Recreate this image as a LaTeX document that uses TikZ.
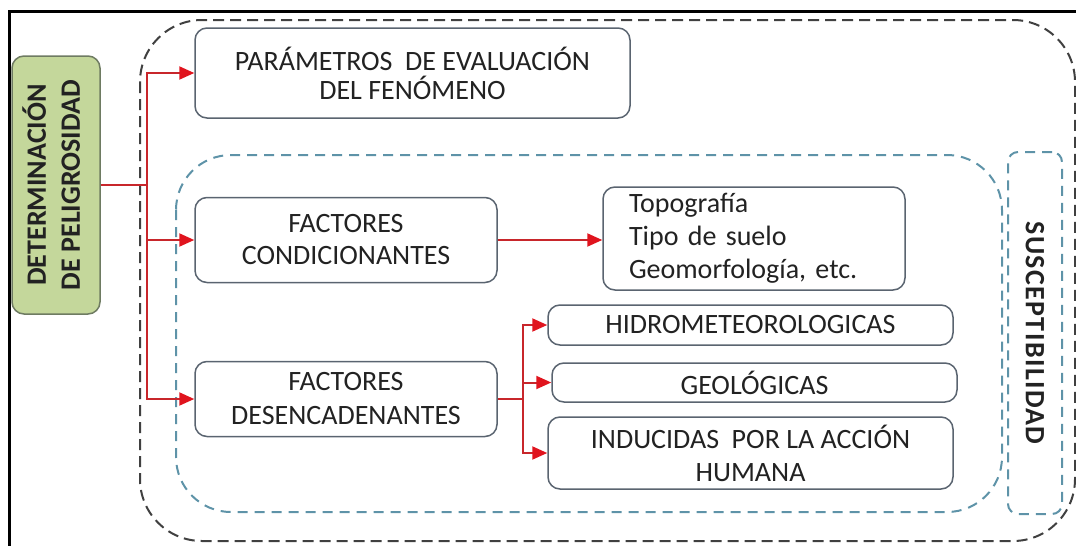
\documentclass[tikz,border=0pt]{standalone}
\usepackage{fontspec}
\setmainfont{Carlito}
\usetikzlibrary{arrows.meta}
\definecolor{boxline}{HTML}{5A6470}
\definecolor{txt}{HTML}{222222}
\definecolor{arrred}{HTML}{C8262B}
\definecolor{tipred}{HTML}{E0141E}
\definecolor{bluedash}{HTML}{5E93A8}
\definecolor{greenfill}{HTML}{C4D79B}
\definecolor{greenline}{HTML}{6E7B62}
\tikzset{
  box/.style={draw=boxline, line width=1.5pt, rounded corners=12pt, fill=white,
    text=txt, font=\fontsize{28}{32}\selectfont, align=center, inner sep=0pt},
  rl/.style={draw=arrred, line width=2pt},
  arr/.style={rl, -{Triangle[length=15pt,width=13pt,fill=tipred,color=tipred]}},
  outerdash/.style={draw=black!75, line width=2pt, dash pattern=on 11pt off 6pt},
  bluedashed/.style={draw=bluedash, line width=2pt, dash pattern=on 10pt off 7pt},
}
\begin{document}
\begin{tikzpicture}[x=1pt,y=-1pt]
\useasboundingbox (0,0) rectangle (1076,546);
% frame
\draw[line width=3pt, black] (9,546) -- (9,11) -- (1076,11);
% containers
\draw[outerdash, rounded corners=62pt] (140,20) rectangle (1075,541);
\draw[bluedashed, rounded corners=55pt] (176,155) rectangle (1002,512);
\node[draw=bluedash, line width=2pt, dash pattern=on 10pt off 7pt, rounded corners=10pt,
  minimum width=54pt, minimum height=362pt, inner sep=0pt] (susc) at (1035,333)
  {\rotatebox{-90}{\fontsize{28}{32}\selectfont\bfseries\addfontfeature{LetterSpace=5}\color{txt}SUSCEPTIBILIDAD}};
% green
\node[draw=greenline, fill=greenfill, line width=1.5pt, rounded corners=12pt,
  minimum width=88pt, minimum height=258pt, inner sep=0pt] (green) at (56,185)
  {\rotatebox{90}{\fontsize{28}{32}\selectfont\bfseries\color{txt}\begin{tabular}{@{}c@{}}DETERMINACIÓN\\[2pt]DE PELIGROSIDAD\end{tabular}}};
% boxes
\node[box, minimum width=435pt, minimum height=90pt, font=\fontsize{28}{29}\selectfont] (par) at (412.5,73)
  {PARÁMETROS\ \ DE EVALUACIÓN\\DEL FENÓMENO};
\node[box, minimum width=302pt, minimum height=85pt] (cond) at (346,240)
  {FACTORES\\CONDICIONANTES};
\node[box, minimum width=302pt, minimum height=75pt, font=\fontsize{28}{34}\selectfont] (desenc) at (346,399)
  {FACTORES\\DESENCADENANTES};
\node[box, minimum width=302pt, minimum height=103pt, text width=250pt, inner xsep=26pt, align=left, font=\fontsize{28}{33}\selectfont] (topo) at (754,238.5)
  {Topografía\\Tipo de suelo\\Geomorfología, etc.};
\node[box, minimum width=405pt, minimum height=40pt] (hidro) at (750.5,325)
  {HIDROMETEOROLOGICAS};
\node[box, minimum width=405pt, minimum height=39pt] (geo) at (754.5,382.5)
  {GEOLÓGICAS};
\node[box, minimum width=405pt, minimum height=72pt, font=\fontsize{28}{33}\selectfont] (ind) at (750.5,453)
  {INDUCIDAS\ \ POR LA ACCIÓN\\HUMANA};
% connectors
\coordinate (j1) at (147,185);
\coordinate (j2) at (523,399);
\draw[rl] (green.east |- j1) -- (j1);
\draw[arr] (j1) |- (par.west);
\draw[arr] (j1) |- (cond.west);
\draw[arr] (j1) |- (desenc.west);
\draw[arr] (cond.east) -- (cond.east -| topo.west);
\draw[rl] (desenc.east) -- (j2);
\draw[arr] (j2) |- (hidro.west);
\draw[arr] (j2) |- (geo.west);
\draw[arr] (j2) |- (ind.west);
\end{tikzpicture}
\end{document}
